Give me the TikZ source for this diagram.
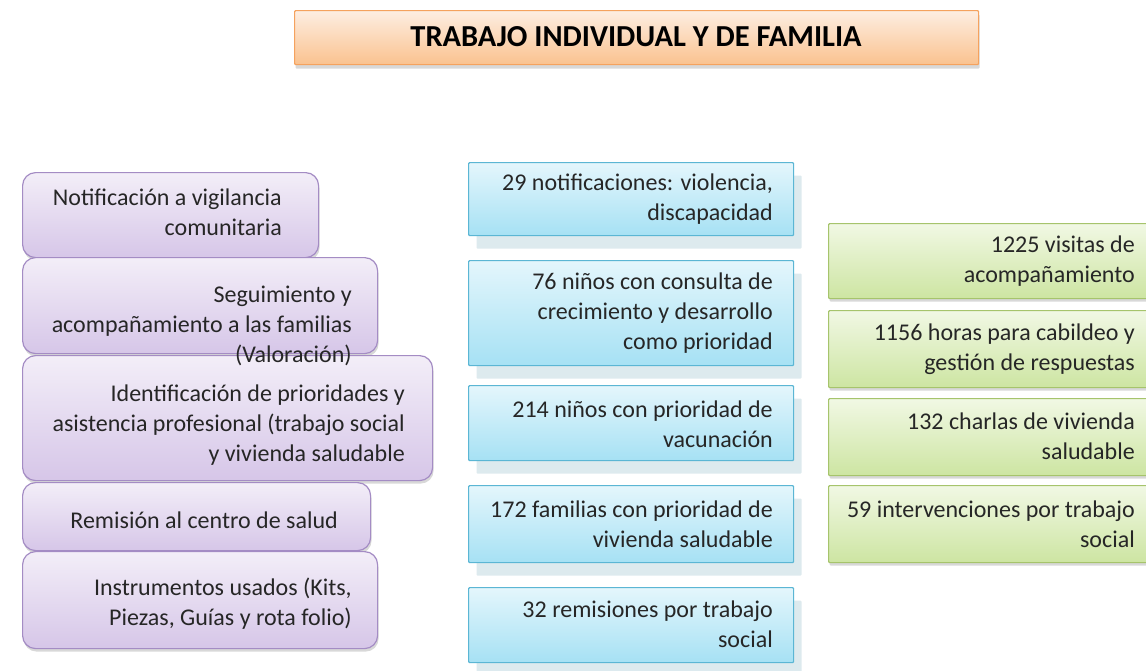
\documentclass[tikz,border=0pt]{standalone}
\usepackage{fontspec}
\setmainfont{Carlito}
\usetikzlibrary{shadows}
\definecolor{purpB}{HTML}{A48CC4}
\definecolor{purpT}{HTML}{F3EEF8}
\definecolor{purpD}{HTML}{D6C6E8}
\definecolor{bluB}{HTML}{5BB6D4}
\definecolor{bluT}{HTML}{E4F6FC}
\definecolor{bluD}{HTML}{A6E1F4}
\definecolor{grnB}{HTML}{A6C46C}
\definecolor{grnT}{HTML}{F1F8E4}
\definecolor{grnD}{HTML}{CDE5A2}
\definecolor{orgB}{HTML}{F5A25E}
\definecolor{orgT}{HTML}{FDEEE2}
\definecolor{orgD}{HTML}{FAC28F}
\definecolor{txtc}{HTML}{262626}
\definecolor{shb}{HTML}{9FC3D0}
\begin{document}
\begin{tikzpicture}[x=1pt,y=1pt,
  box/.style={line width=1.2pt, anchor=north west, inner sep=0pt},
  purp/.style={box, rounded corners=13pt, draw=purpB, top color=purpT, bottom color=purpD,
    drop shadow={shadow xshift=1pt, shadow yshift=-3pt, opacity=0.3}},
  blu/.style={box, rounded corners=1pt, draw=bluB, top color=bluT, bottom color=bluD,
    drop shadow={shadow xshift=8pt, shadow yshift=-13pt, fill=shb, opacity=0.35}},
  grn/.style={box, rounded corners=1pt, draw=grnB, top color=grnT, bottom color=grnD,
    drop shadow={shadow xshift=1pt, shadow yshift=-3pt, opacity=0.3}},
  org/.style={box, rounded corners=1pt, draw=orgB, top color=orgT, bottom color=orgD,
    drop shadow={shadow xshift=1pt, shadow yshift=-4pt, opacity=0.3}},
  txt/.style={align=right, font=\fontsize{24}{30}\selectfont, text=txtc, inner sep=0pt, anchor=east}
]
\clip (0,0) rectangle (1146,-670);
\fill[white] (0,0) rectangle (1146,-670);

% title
\node[org, minimum width=684pt, minimum height=54pt] (title) at (294,-10) {};
\node[font=\fontsize{30.5}{34}\selectfont\bfseries, text=black, inner sep=0pt] (ttl) at (636,-37) {TRABAJO INDIVIDUAL Y DE FAMILIA};

% left column
\node[purp, minimum width=296pt, minimum height=85pt] (l1) at (22,-172) {};
\node[purp, minimum width=355pt, minimum height=96pt] (l2) at (22,-257) {};
\node[purp, minimum width=410pt, minimum height=125pt] (l3) at (22,-355) {};
\node[purp, minimum width=348pt, minimum height=68pt] (l4) at (22,-482) {};
\node[purp, minimum width=355pt, minimum height=97pt] (l5) at (22,-551) {};
\node[txt] (tl1) at (282,-212) {Notificación a vigilancia\\comunitaria};
\node[txt] (tl2) at (352,-326) {Seguimiento y\\acompañamiento a las familias\\(Valoración)};
\node[txt] (tl3) at (405,-425) {Identificación de prioridades y\\asistencia profesional (trabajo social\\y vivienda saludable};
\node[txt] (tl4) at (338,-520) {Remisión al centro de salud};
\node[txt] (tl5) at (352,-604) {Instrumentos usados (Kits,\\Piezas, Guías y rota folio)};

% middle column
\node[blu, minimum width=325pt, minimum height=73pt] (m1) at (468,-162) {};
\node[blu, minimum width=325pt, minimum height=105pt] (m2) at (468,-260) {};
\node[blu, minimum width=325pt, minimum height=75pt] (m3) at (468,-385) {};
\node[blu, minimum width=325pt, minimum height=77pt] (m4) at (468,-485) {};
\node[blu, minimum width=325pt, minimum height=75pt] (m5) at (468,-587) {};
\node[txt] (tm1) at (773,-199) {29 notificaciones: violencia,\\discapacidad};
\node[txt] (tm2) at (773,-313) {76 niños con consulta de\\crecimiento y desarrollo\\como prioridad};
\node[txt] (tm3) at (773,-424) {214 niños con prioridad de\\vacunación};
\node[txt] (tm4) at (773,-524) {172 familias con prioridad de\\vivienda saludable};
\node[txt] (tm5) at (773,-624) {32 remisiones por trabajo\\social};

% right column
\node[grn, minimum width=330pt, minimum height=75pt] (r1) at (828,-223) {};
\node[grn, minimum width=330pt, minimum height=77pt] (r2) at (828,-310) {};
\node[grn, minimum width=330pt, minimum height=77pt] (r3) at (828,-398) {};
\node[grn, minimum width=330pt, minimum height=77pt] (r4) at (828,-485) {};
\node[txt] (tr1) at (1135,-261) {1225 visitas de\\acompañamiento};
\node[txt] (tr2) at (1135,-349) {1156 horas para cabildeo y\\gestión de respuestas};
\node[txt] (tr3) at (1135,-436) {132 charlas de vivienda\\saludable};
\node[txt] (tr4) at (1135,-524) {59 intervenciones por trabajo\\social};
\end{tikzpicture}
\end{document}
